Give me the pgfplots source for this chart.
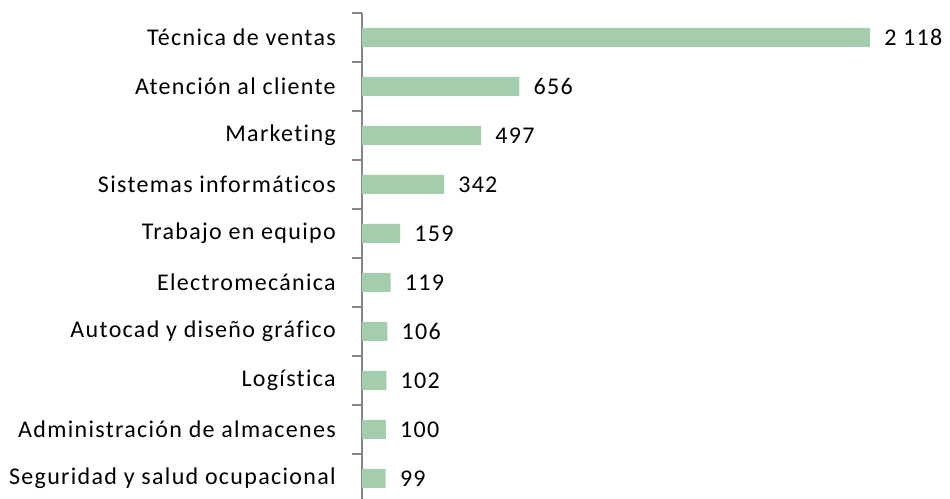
\documentclass[border=0pt]{standalone}
\usepackage{pgfplots}
\pgfplotsset{compat=1.18}
\usepackage{fontspec}
\setmainfont{Carlito}[Ligatures=NoCommon,LetterSpace=5.5]
\definecolor{barfill}{HTML}{A4CDAD}
\definecolor{axgray}{HTML}{868686}
\begin{document}
\begin{tikzpicture}[x=1pt,y=1pt]
\useasboundingbox (-271.5pt,0pt) rectangle (441pt,374.25pt);
\begin{axis}[
  at={(0pt,0pt)}, anchor=south west,
  xbar,
  scale only axis,
  width=381pt,
  height=364.5pt,
  bar width=14.25pt,
  bar shift=0pt,
  xmin=0, xmax=2118,
  ymin=-0.42, ymax=9.5,
  clip=false,
  hide x axis,
  axis y line*=left,
  y axis line style={draw=axgray,line width=1.1pt,-},
  ytick={0,...,9},
  yticklabels={Seguridad y salud ocupacional,Administración de almacenes,Logística,Autocad y diseño gráfico,Electromecánica,Trabajo en equipo,Sistemas informáticos,Marketing,Atención al cliente,Técnica de ventas},
  major tick length=0pt,
  minor ytick={-0.5,0.5,...,9.5},
  minor tick length=7.5pt,
  tick align=outside,
  minor tick style={draw=axgray,line width=1.1pt},
  yticklabel style={font=\fontsize{18}{21}\selectfont,anchor=east,inner sep=0pt,xshift=-19.5pt},
  nodes near coords,
  nodes near coords style={font=\fontsize{18}{21}\selectfont,anchor=west,inner sep=0pt,xshift=10.5pt,
    /pgf/number format/.cd,1000 sep={\ },assume math mode=true},
]
\addplot[fill=barfill,draw=none] coordinates {
  (99,0) (100,1) (102,2) (106,3) (119,4) (159,5) (342,6) (497,7) (656,8) (2118,9)};
\end{axis}
\end{tikzpicture}
\end{document}
